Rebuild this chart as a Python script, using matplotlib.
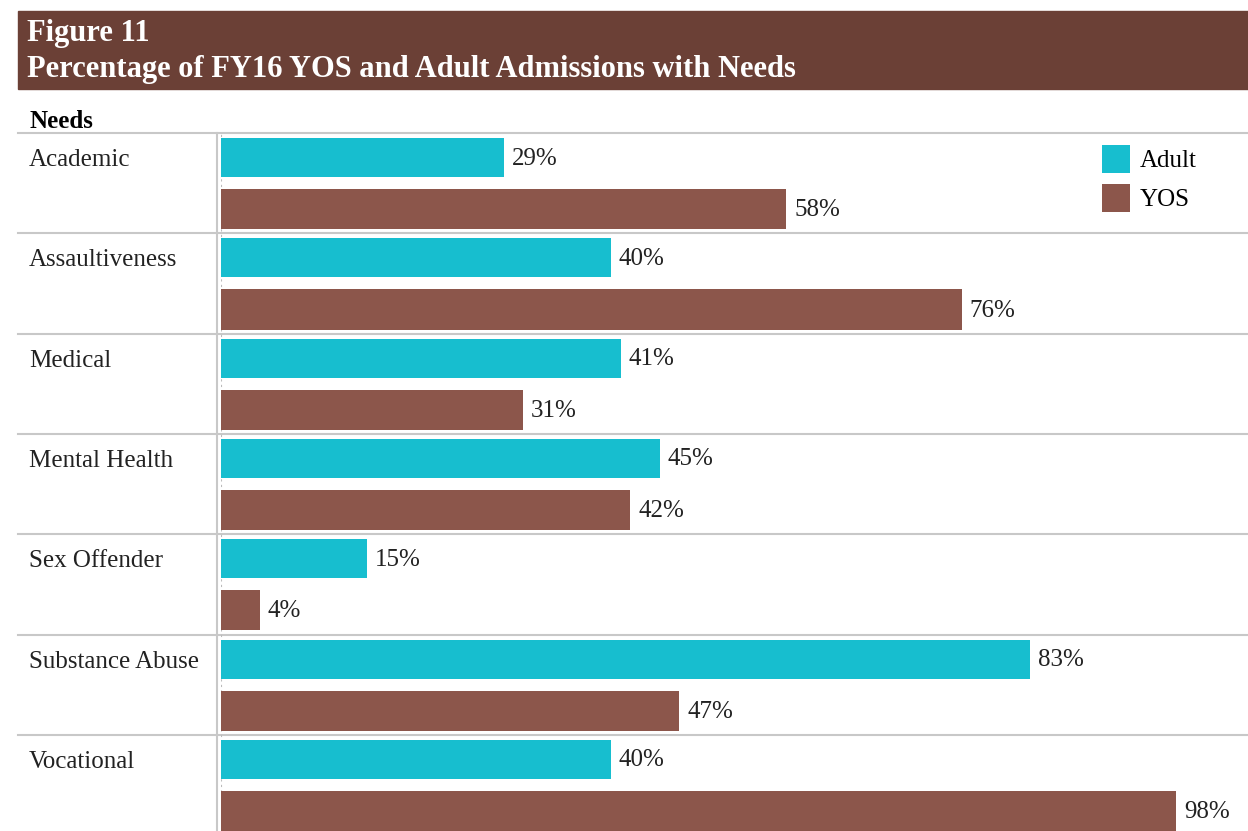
import matplotlib
matplotlib.use("Agg")
import matplotlib.pyplot as plt
from matplotlib.patches import Rectangle, Patch
from matplotlib.lines import Line2D

categories = ["Academic", "Assaultiveness", "Medical", "Mental Health",
              "Sex Offender", "Substance Abuse", "Vocational"]
adult = [29, 40, 41, 45, 15, 83, 40]
yos = [58, 76, 31, 42, 4, 47, 98]
series_names = ["Adult", "YOS"]
colors = ["#17BECF", "#8C564B"]
title_lines = ["Figure 11", "Percentage of FY16 YOS and Adult Admissions with Needs"]
header = "Needs"

W, H = 1248, 831
plt.rcParams['font.family'] = ['Liberation Serif', 'DejaVu Serif']
fig = plt.figure(figsize=(W / 100, H / 100), dpi=100)

def fy(py):
    return 1 - py / H

def fx(px):
    return px / W

LBL = 18

# Title band
fig.patches.append(Rectangle((fx(18), fy(89)), fx(1230), 78 / H,
                             transform=fig.transFigure, color="#6B4036", zorder=0))
fig.text(fx(27), fy(34), title_lines[0], color="white", fontsize=22,
         fontweight="bold", va="center", ha="left")
fig.text(fx(27), fy(70), title_lines[1], color="white", fontsize=22,
         fontweight="bold", va="center", ha="left")
fig.text(fx(30), fy(121), header, color="black", fontsize=LBL,
         fontweight="bold", va="center", ha="left")

# Axes area (bars)
ax_left, ax_right, ax_top, ax_bot = 221, 1248, 133, 831
ax = fig.add_axes([fx(ax_left), fy(ax_bot), (ax_right - ax_left) / W, (ax_bot - ax_top) / H])
px_per_pct = 9.745
ax.set_xlim(0, (ax_right - ax_left) / px_per_pct)
row_px = 100.3
ax.set_ylim((ax_bot - ax_top) / row_px, 0)
ax.axis("off")

n = len(categories)
ya = [i + 0.245 for i in range(n)]
yy = [i + 0.76 for i in range(n)]
ax.barh(ya, adult, height=0.39, color=colors[0], zorder=2)
ax.barh(yy, yos, height=0.40, color=colors[1], zorder=2)

off = 8 / px_per_pct
for y, v in zip(ya, adult):
    ax.text(v + off, y + 0.01, f"{v}%", va="center", ha="left", fontsize=LBL, color="#222222")
for y, v in zip(yy, yos):
    ax.text(v + off, y + 0.01, f"{v}%", va="center", ha="left", fontsize=LBL, color="#222222")

# category labels
for i, c in enumerate(categories):
    fig.text(fx(29), fy(ax_top + i * row_px + 27), c, va="center", ha="left",
             fontsize=LBL, color="#222222")

# Row separators
xmin = (18 - ax_left) / (ax_right - ax_left)
for i in range(n):
    ax.axhline(i, xmin=xmin, xmax=1, color="#C8C8C8", lw=1.5, clip_on=False, zorder=1)

# vertical divider
fig.lines.append(Line2D([fx(217), fx(217)], [fy(ax_top), 0], transform=fig.transFigure,
                        color="#C8C8C8", lw=1.5))
# faint dashed axis line
ax.axvline(0, color="#BBBBBB", lw=0.8, ls=(0, (2, 3)), zorder=1)

# Legend
handles = [Patch(facecolor=colors[0]), Patch(facecolor=colors[1])]
fig.legend(handles, series_names, loc="upper left", bbox_to_anchor=(fx(1102), fy(145)),
           frameon=False, fontsize=LBL, handlelength=1.12, handleheight=1.35,
           handletextpad=0.4, labelspacing=0.42, borderaxespad=0, borderpad=0)

fig.savefig("out.png", dpi=100)
